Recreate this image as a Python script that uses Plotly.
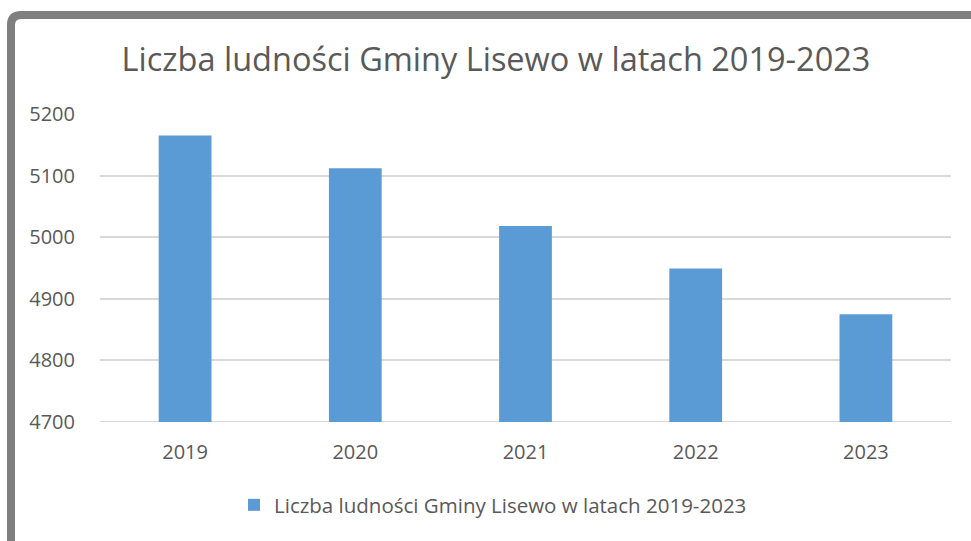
import plotly.graph_objects as go

years = ["2019", "2020", "2021", "2022", "2023"]
population = [5165, 5112, 5018, 4949, 4875]
series_name = "Liczba ludności Gminy Lisewo w latach 2019-2023"
title_text = "Liczba ludności Gminy Lisewo w latach 2019-2023"
y_ticks = [4700, 4800, 4900, 5000, 5100, 5200]

W, H = 971, 541
L, R, T, B = 100, 20, 114, 119
pw, ph = W - L - R, H - T - B

def px(x):
    return (x - L) / pw

def py(y):
    return (H - B - y) / ph

fig = go.Figure()
fig.add_trace(go.Bar(
    x=years, y=population, name=series_name,
    marker=dict(color="#5B9BD5", line=dict(width=0)),
    showlegend=True,
))

# frame border (gray, rounded corner at top-left)
x0, y0, r = 11, 15, 10
path = (f"M {px(x0)},{py(560)} L {px(x0)},{py(y0 + r)} "
        f"Q {px(x0)},{py(y0)} {px(x0 + r)},{py(y0)} L {px(1000)},{py(y0)}")
fig.add_shape(type="path", path=path, xref="paper", yref="paper",
              line=dict(color="#7F7F7F", width=8), layer="above")

font_family = "Open Sans, Noto Sans, sans-serif"
fig.update_layout(
    width=W, height=H,
    margin=dict(l=L, r=R, t=T, b=B, autoexpand=False),
    paper_bgcolor="white", plot_bgcolor="white",
    font=dict(family=font_family, color="#595959"),
    title=dict(text=title_text, x=(122 + 870) / 2 / W, xanchor="center",
               y=1 - 60 / H, yanchor="middle", yref="container",
               font=dict(size=32.5, color="#595959")),
    bargap=0.69,
    xaxis=dict(showgrid=False, showline=False, ticks="",
               tickfont=dict(size=20), ticklabelstandoff=16),
    yaxis=dict(range=[4700, 5200], tickvals=y_ticks, showgrid=True,
               gridcolor="#D9D9D9", gridwidth=2, zeroline=False, showline=False,
               tickfont=dict(size=20), ticklabelstandoff=24),
    legend=dict(orientation="h", x=px(493), xanchor="center", y=py(505),
                yanchor="middle", font=dict(size=20.5), itemwidth=30),
)
fig.add_shape(type="line", xref="paper", yref="y", x0=0, x1=1, y0=4700, y1=4700,
              line=dict(color="#D9D9D9", width=2), layer="below")

fig.write_html("out.html", config={"displayModeBar": False},
               post_script="document.body.style.margin='0';")
